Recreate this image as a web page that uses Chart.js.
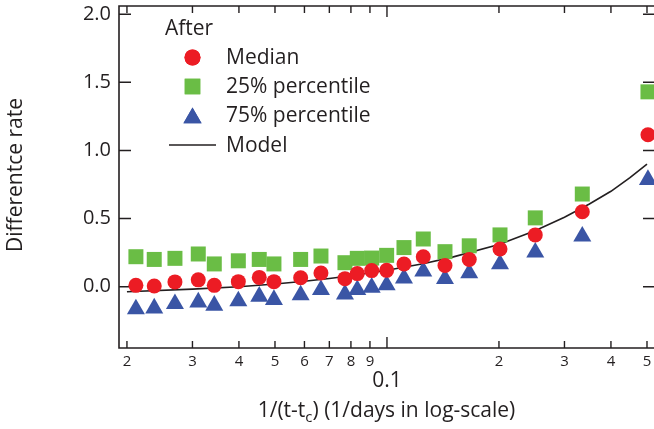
<!DOCTYPE html>
<html>
<head>
<meta charset="utf-8">
<script src="https://cdn.jsdelivr.net/npm/chart.js@4.4.0/dist/chart.umd.min.js"></script>
<style>
  html, body { margin: 0; padding: 0; background: #ffffff; overflow: hidden; }
  #c { display: block; }
</style>
</head>
<body>
<canvas id="c" width="656" height="429" style="width:656px;height:429px"></canvas>
<script>
// ---- data ----
const xValues = [0.02114, 0.02368, 0.02692, 0.03110, 0.03434, 0.03985, 0.04536, 0.04968, 0.05861, 0.06646, 0.07710, 0.08322, 0.09097, 0.0998, 0.1111, 0.1252, 0.1432, 0.1664, 0.2013, 0.2504, 0.3350, 0.5030];
const medianValues = [0.01, 0.005, 0.035, 0.05, 0.01, 0.037, 0.068, 0.037, 0.066, 0.10, 0.059, 0.096, 0.118, 0.12, 0.167, 0.22, 0.156, 0.199, 0.277, 0.38, 0.55, 1.115];
const p25Values = [0.22, 0.20, 0.208, 0.24, 0.167, 0.19, 0.20, 0.167, 0.20, 0.225, 0.176, 0.208, 0.21, 0.23, 0.287, 0.35, 0.257, 0.30, 0.38, 0.505, 0.68, 1.43];
const p75Values = [-0.165, -0.158, -0.126, -0.114, -0.138, -0.106, -0.072, -0.096, -0.062, -0.023, -0.055, -0.023, -0.006, 0.012, 0.062, 0.112, 0.058, 0.10, 0.166, 0.252, 0.369, 0.785];
const modelX = [0.02, 0.03, 0.04, 0.05, 0.06, 0.07, 0.08, 0.1, 0.125, 0.15, 0.2, 0.25, 0.3, 0.35, 0.4, 0.45, 0.5];
const modelY = [-0.037, -0.018, 0.0, 0.02, 0.04, 0.06, 0.08, 0.12, 0.168, 0.217, 0.31, 0.41, 0.51, 0.607, 0.70, 0.80, 0.90];

const xTickValues = [0.02, 0.03, 0.04, 0.05, 0.06, 0.07, 0.08, 0.09, 0.1, 0.2, 0.3, 0.4, 0.5];
const xTickLabels = ['2', '3', '4', '5', '6', '7', '8', '9', '', '2', '3', '4', '5'];
const xMajorValue = 0.1;
const xMajorLabel = '0.1';
const yTickValues = [0, 0.5, 1.0, 1.5, 2.0];
const yTickLabels = ['0.0', '0.5', '1.0', '1.5', '2.0'];

const seriesNames = ['Median', '25% percentile', '75% percentile', 'Model'];
const legendTitle = 'After';
const xTitleMain = '1/(t-t';
const xTitleSub = 'c';
const xTitleRest = ') (1/days in log-scale)';
const yTitle = 'Differentce rate';

// ---- styling ----
const FONT = "'Open Sans', 'Liberation Sans', sans-serif";
const INK = '#231f20';
const RED = '#ec1c24';
const GREEN = '#6abd45';
const BLUE = '#3a55a5';

const X_MIN = 0.01904, X_MAX = 0.5254;
const Y_MIN = -0.45, Y_MAX = 2.06;

const framePlugin = {
  id: 'frame',
  beforeDatasetsDraw(chart) {
    const { ctx, chartArea: a, scales } = chart;
    ctx.save();
    ctx.strokeStyle = INK;
    ctx.lineWidth = 1.6;
    ctx.beginPath();
    ctx.rect(a.left, a.top, a.right - a.left, a.bottom - a.top);
    ctx.stroke();
    ctx.lineWidth = 1.4;
    ctx.beginPath();
    xTickValues.forEach(v => {
      const px = scales.x.getPixelForValue(v);
      const len = (v === xMajorValue) ? 11 : 7;
      ctx.moveTo(px, a.bottom); ctx.lineTo(px, a.bottom - len);
      ctx.moveTo(px, a.top); ctx.lineTo(px, a.top + len);
    });
    yTickValues.forEach(v => {
      const py = scales.y.getPixelForValue(v);
      ctx.moveTo(a.left, py); ctx.lineTo(a.left + 12, py);
      ctx.moveTo(a.right, py); ctx.lineTo(a.right - 12, py);
    });
    ctx.stroke();
    ctx.restore();
  },
  afterDraw(chart) {
    const { ctx, chartArea: a, scales } = chart;
    ctx.save();
    ctx.fillStyle = INK;
    // major x label
    ctx.font = `21px ${FONT}`;
    ctx.textAlign = 'center';
    ctx.textBaseline = 'alphabetic';
    ctx.fillText(xMajorLabel, scales.x.getPixelForValue(xMajorValue), 387);
    // x title with subscript
    const mainFont = `21px ${FONT}`, subFont = `15px ${FONT}`;
    ctx.font = mainFont; const w1 = ctx.measureText(xTitleMain).width;
    const w3 = ctx.measureText(xTitleRest).width;
    ctx.font = subFont; const w2 = ctx.measureText(xTitleSub).width;
    const total = w1 + w2 + w3;
    let sx = 386.5 - total / 2;
    ctx.textAlign = 'left';
    ctx.font = mainFont; ctx.fillText(xTitleMain, sx, 417); sx += w1;
    ctx.font = subFont; ctx.fillText(xTitleSub, sx, 422); sx += w2;
    ctx.font = mainFont; ctx.fillText(xTitleRest, sx, 417);
    // y title
    ctx.save();
    ctx.translate(16, 175);
    ctx.rotate(-Math.PI / 2);
    ctx.textAlign = 'center';
    ctx.textBaseline = 'middle';
    ctx.font = `21px ${FONT}`;
    ctx.fillText(yTitle, 0, 0);
    ctx.restore();
    // legend
    ctx.textAlign = 'left';
    ctx.textBaseline = 'alphabetic';
    ctx.font = `21px ${FONT}`;
    ctx.fillText(legendTitle, 165, 35);
    const rows = [
      { y: 57.5, style: 'circle', r: 8, color: RED },
      { y: 86.5, style: 'rect', r: 11, color: GREEN },
      { y: 115.5, style: 'triangle', r: 10.5, color: BLUE },
      { y: 145, style: 'line' }
    ];
    rows.forEach((row, i) => {
      if (row.style === 'line') {
        ctx.strokeStyle = INK; ctx.lineWidth = 1.6;
        ctx.beginPath(); ctx.moveTo(169, row.y); ctx.lineTo(216, row.y); ctx.stroke();
      } else {
        ctx.fillStyle = row.color;
        Chart.helpers.drawPoint(ctx, { pointStyle: row.style, radius: row.r, borderWidth: 0, rotation: 0 }, 192.5, row.style === 'triangle' ? row.y + 2.5 : row.y);
        ctx.fill();
      }
      ctx.fillStyle = INK;
      ctx.textBaseline = 'middle';
      ctx.fillText(seriesNames[i], 226, row.y + 1);
    });
    ctx.restore();
  }
};

const mk = (xs, ys) => xs.map((x, i) => ({ x: x, y: ys[i] }));

new Chart(document.getElementById('c'), {
  type: 'scatter',
  data: {
    datasets: [
      { label: seriesNames[0], data: mk(xValues, medianValues), pointStyle: 'circle', pointRadius: 7.5, backgroundColor: RED, borderWidth: 0 },
      { label: seriesNames[1], data: mk(xValues, p25Values), pointStyle: 'rect', pointRadius: 10.6, backgroundColor: GREEN, borderWidth: 0 },
      { label: seriesNames[2], data: mk(xValues, p75Values), pointStyle: 'triangle', pointRadius: 10.4, backgroundColor: BLUE, borderWidth: 0 },
      { label: seriesNames[3], data: mk(modelX, modelY), showLine: true, pointRadius: 0, borderColor: INK, borderWidth: 1.6, fill: false, tension: 0 }
    ]
  },
  options: {
    responsive: false,
    animation: false,
    events: [],
    layout: { autoPadding: false, padding: { top: 6, right: 1, left: 0, bottom: 0 } },
    plugins: { legend: { display: false }, tooltip: { enabled: false } },
    scales: {
      x: {
        type: 'logarithmic', min: X_MIN, max: X_MAX,
        grid: { display: false, drawTicks: false },
        border: { display: false },
        afterBuildTicks: s => { s.ticks = xTickValues.map(v => ({ value: v })); },
        ticks: {
          autoSkip: false, maxRotation: 0, minRotation: 0, padding: 5,
          font: { family: FONT, size: 15 }, color: INK,
          callback: (v, i) => xTickLabels[i]
        },
        afterFit: s => { s.height = 81; s.paddingLeft = 0; s.paddingRight = 0; s.paddingTop = 0; s.paddingBottom = 0; }
      },
      y: {
        min: Y_MIN, max: Y_MAX,
        grid: { display: false, drawTicks: false },
        border: { display: false },
        afterBuildTicks: s => { s.ticks = yTickValues.map(v => ({ value: v })); },
        ticks: {
          padding: 8, font: { family: FONT, size: 20 }, color: INK,
          callback: (v, i) => yTickLabels[i]
        },
        afterFit: s => { s.width = 119; s.paddingLeft = 0; s.paddingRight = 0; s.paddingTop = 0; s.paddingBottom = 0; }
      }
    }
  },
  plugins: [framePlugin]
});
</script>
</body>
</html>
